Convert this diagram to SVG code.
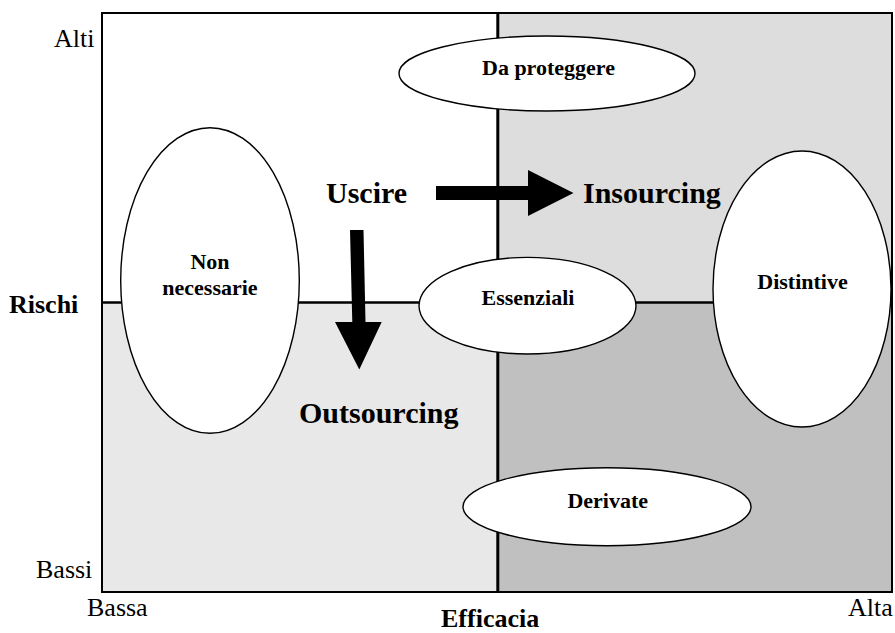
<svg xmlns="http://www.w3.org/2000/svg" width="895" height="633" viewBox="0 0 895 633">
  <style>
    .lbl { font-family: "Liberation Serif", "Times New Roman", serif; fill: #000; }
    .axis { font-size: 26px; }
    .bold { font-weight: bold; }
    .node text { font-family: "Liberation Serif", "Times New Roman", serif; font-weight: bold; font-size: 22px; text-anchor: middle; fill: #000; }
    .node ellipse { fill: #fff; stroke: #000; stroke-width: 1.4; }
    .big { font-size: 30px; font-weight: bold; }
    .arrow { fill: #000; }
  </style>

  <!-- matrix background: four quadrants -->
  <g id="matrix">
    <rect x="102" y="13" width="395.5" height="289" fill="#ffffff"/>
    <rect x="497.5" y="13" width="394.5" height="289" fill="#dddddd"/>
    <rect x="102" y="302" width="395.5" height="290" fill="#e8e8e8"/>
    <rect x="497.5" y="302" width="394.5" height="290" fill="#c0c0c0"/>
    <line x1="102" y1="302.5" x2="892" y2="302.5" stroke="#000" stroke-width="2.6"/>
    <line x1="497.8" y1="13" x2="497.8" y2="592" stroke="#000" stroke-width="3"/>
    <rect x="102" y="13" width="790" height="579" fill="none" stroke="#000" stroke-width="2"/>
  </g>

  <!-- axis labels -->
  <g id="axes">
    <text class="lbl axis" x="54" y="47">Alti</text>
    <text class="lbl axis bold" x="9" y="313">Rischi</text>
    <text class="lbl axis" x="36" y="578">Bassi</text>
    <text class="lbl axis" x="87" y="616">Bassa</text>
    <text class="lbl axis bold" x="441" y="627">Efficacia</text>
    <text class="lbl axis" x="848" y="616">Alta</text>
  </g>

  <!-- direction arrows -->
  <g id="connectors">
    <polygon class="arrow" points="436,186 528,186 528,170 573.5,193 528,216 528,200 436,200"/>
    <polygon class="arrow" points="350,230 363.5,230 365.5,322 381.7,322 359.3,369.5 335,322 352.3,322"/>
  </g>

  <!-- strategy labels -->
  <g id="strategies">
    <text class="lbl big" x="326" y="203">Uscire</text>
    <text class="lbl big" x="583" y="203">Insourcing</text>
    <text class="lbl big" x="299" y="423">Outsourcing</text>
  </g>

  <!-- activity groups -->
  <g id="da-proteggere" class="node">
    <ellipse cx="547" cy="73.5" rx="148" ry="37.5"/>
    <text x="548.5" y="75">Da proteggere</text>
  </g>
  <g id="non-necessarie" class="node">
    <ellipse cx="210" cy="280.5" rx="89.3" ry="152.8"/>
    <text x="210" y="269">Non</text>
    <text x="210" y="295">necessarie</text>
  </g>
  <g id="essenziali" class="node">
    <ellipse cx="527.5" cy="305.7" rx="108.5" ry="48.3"/>
    <text x="528" y="305">Essenziali</text>
  </g>
  <g id="distintive" class="node">
    <ellipse cx="802" cy="289" rx="89" ry="138"/>
    <text x="802.5" y="289">Distintive</text>
  </g>
  <g id="derivate" class="node">
    <ellipse cx="607" cy="506.7" rx="144" ry="39"/>
    <text x="607.7" y="508">Derivate</text>
  </g>
</svg>
